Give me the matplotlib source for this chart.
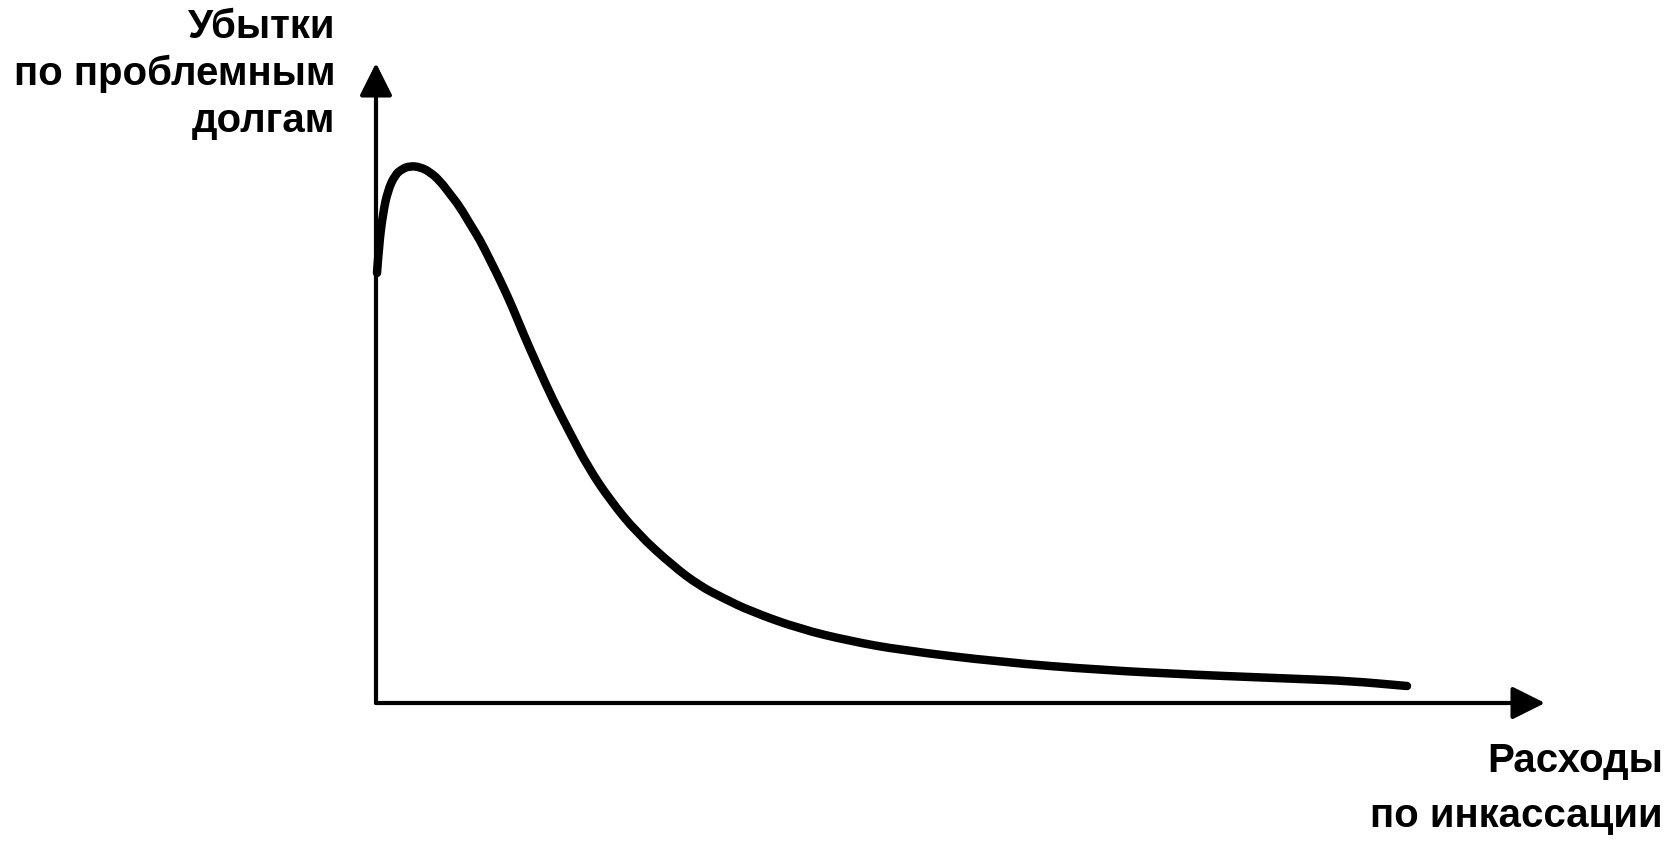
import numpy as np
import matplotlib
matplotlib.use("Agg")
import matplotlib.pyplot as plt
from matplotlib.path import Path
from matplotlib.patches import PathPatch

# collection costs (x) vs bad-debt losses (y), arbitrary units
costs = [1, 3, 7, 12, 19, 26, 34, 44, 54, 64, 74, 84, 94, 104, 114, 124, 136, 147,
         162, 177, 194, 212, 234, 261, 297, 324, 347, 374, 424, 474, 524, 624, 724,
         824, 874, 924, 974, 1031]
losses = [430, 458, 490, 513, 528, 534, 537, 536, 531, 522, 509, 496, 479, 463, 443,
          423, 397, 370, 336, 303, 270, 236, 203, 170, 137, 117, 105, 92, 74, 62, 53,
          41, 33, 28, 26, 24, 22, 17]

y_label = ["Убытки", "по проблемным", "долгам"]
x_label = ["Расходы", "по инкассации"]

W, H = 1676, 842
fig = plt.figure(figsize=(W / 100, H / 100), dpi=100)
fig.patch.set_facecolor("white")

# axes box runs from the origin to the arrow tips (pixels)
x0, y0, x1, y1 = 376, 703, 1545, 63
ax = fig.add_axes([x0 / W, (H - y0) / H, (x1 - x0) / W, (y0 - y1) / H])
ax.set_xlim(0, x1 - x0)
ax.set_ylim(0, y0 - y1)
ax.axis("off")

arrow = dict(arrowstyle="-|>,head_length=0.4,head_width=0.2", mutation_scale=50,
             color="black", lw=3.0, shrinkA=0, shrinkB=0)
ax.annotate("", xy=(x1 - x0, 0), xytext=(0, 0), arrowprops=arrow, annotation_clip=False)
ax.annotate("", xy=(0, y0 - y1), xytext=(0, 0), arrowprops=arrow, annotation_clip=False)

# smooth the read points with quadratic bezier segments (points act as control points)
pts = np.column_stack([costs, losses]).astype(float)
verts = [pts[0]]
codes = [Path.MOVETO]
for i in range(1, len(pts) - 1):
    mid = (pts[i] + pts[i + 1]) / 2
    verts += [pts[i], mid]
    codes += [Path.CURVE3, Path.CURVE3]
verts.append(pts[-1])
codes.append(Path.LINETO)
curve = PathPatch(Path(verts, codes), fill=False, edgecolor="black", lw=6.1,
                  capstyle="round", joinstyle="round", clip_on=False)
ax.add_patch(curve)

font = dict(family=["Liberation Sans", "DejaVu Sans"], weight="bold", fontsize=29)
for txt, base in zip(y_label, [38, 85, 132]):
    fig.text(335 / W, 1 - base / H, txt, ha="right", va="baseline", **font)
for txt, base in zip(x_label, [772, 827]):
    fig.text(1663 / W, 1 - base / H, txt, ha="right", va="baseline", **font)

fig.savefig("out.png", dpi=100, facecolor="white")
